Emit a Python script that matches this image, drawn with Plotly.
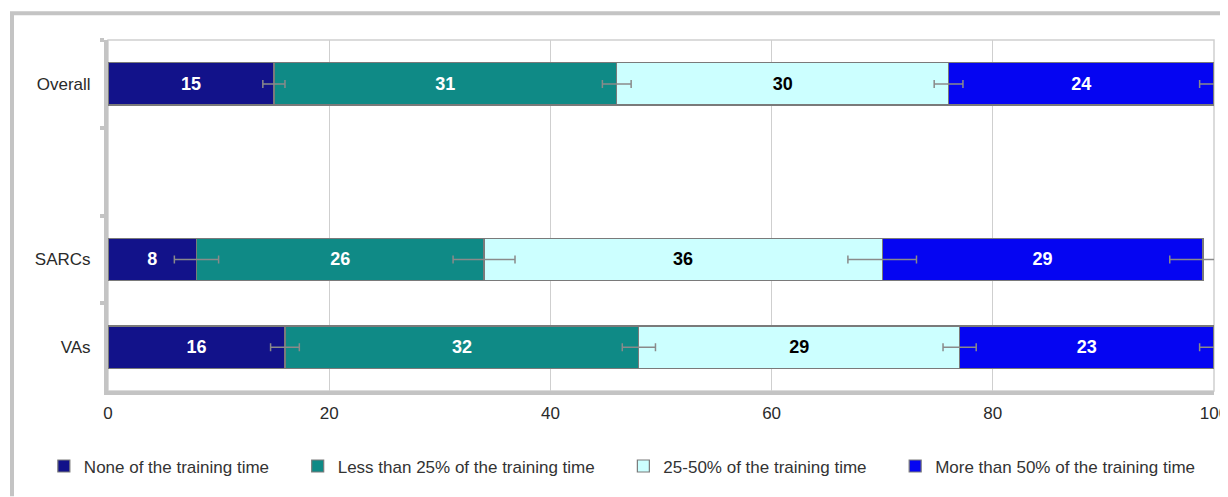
import numpy as np
import plotly.graph_objects as go

# categories top to bottom (blank slot between Overall and SARCs)
categories = ["Overall", " ", "SARCs", "VAs"]
groups = ["Overall", "SARCs", "VAs"]

series_names = [
    "None of the training time",
    "Less than 25% of the training time",
    "25-50% of the training time",
    "More than 50% of the training time",
]
none_vals = [15, 8, 16]
lt25_vals = [31, 26, 32]
mid_vals = [30, 36, 29]
gt50_vals = [24, 29, 23]

none_err = [1.0, 2.0, 1.3]
lt25_err = [1.3, 2.8, 1.5]
mid_err = [1.3, 3.1, 1.5]
gt50_err = [1.3, 3.0, 1.3]

x_ticks = [0, 20, 40, 60, 80, 100]

colors = ["#12128A", "#0F8A86", "#CCFFFF", "#0505F2"]
text_colors = ["white", "white", "black", "white"]

all_vals = [none_vals, lt25_vals, mid_vals, gt50_vals]
all_errs = [none_err, lt25_err, mid_err, gt50_err]

fig = go.Figure()
for name, vals, col, tcol in zip(series_names, all_vals, colors, text_colors):
    fig.add_trace(go.Bar(
        y=groups, x=vals, name=name + "\u00a0" * 5, orientation="h",
        width=0.48,
        marker=dict(color=col, line=dict(color="#7a7a7a", width=1.2)),
        text=vals, textposition="inside", insidetextanchor="middle",
        textfont=dict(color=tcol, size=18, family="Liberation Sans", weight="bold"),
        hoverinfo="skip",
    ))

# error bars drawn on top of every segment end
ends = np.cumsum(np.array(all_vals), axis=0)
for seg_end, errs in zip(ends, all_errs):
    fig.add_trace(go.Scatter(
        y=groups, x=seg_end, mode="markers", showlegend=False, hoverinfo="skip",
        marker=dict(size=1, opacity=0),
        error_x=dict(type="data", array=errs, color="#8a8a8a", thickness=1.5, width=4),
    ))

fig.update_layout(
    barmode="stack",
    width=1220, height=489,
    margin=dict(l=100, r=14, t=32, b=103),
    plot_bgcolor="white", paper_bgcolor="white",
    font=dict(family="Liberation Sans", size=17, color="#2a2a2a"),
    legend=dict(orientation="h", x=-0.058, y=-0.215, yanchor="middle", xanchor="left",
                font=dict(size=17, color="#333333"), traceorder="normal",
                itemwidth=30),
    shapes=[
        # plot area border
        dict(type="rect", xref="paper", yref="paper", x0=0, y0=0, x1=1, y1=1,
             line=dict(color="#cfcfcf", width=1.5), layer="below"),
        # outer chart frame
        dict(type="path", xref="paper", yref="paper",
             path="M -0.0868,-0.3 L -0.0868,1.076 L 1.02,1.076",
             line=dict(color="#c4c4c4", width=4)),
    ],
)
fig.update_xaxes(range=[0, 100], tickvals=x_ticks, showgrid=True, gridcolor="#cfcfcf",
                 gridwidth=1, zeroline=False, showline=True, linecolor="#c4c4c4",
                 linewidth=4, ticks="", ticklabelstandoff=4, ticklabeloverflow="allow",
                 automargin=False)
fig.update_yaxes(type="category", categoryorder="array", categoryarray=categories,
                 autorange="reversed", showgrid=False, showline=True,
                 linecolor="#c4c4c4", linewidth=4, ticks="outside", tickson="boundaries",
                 ticklen=4, tickwidth=4, tickcolor="#c4c4c4", ticklabelstandoff=10,
                 automargin=False)

fig.write_html("out.html")
